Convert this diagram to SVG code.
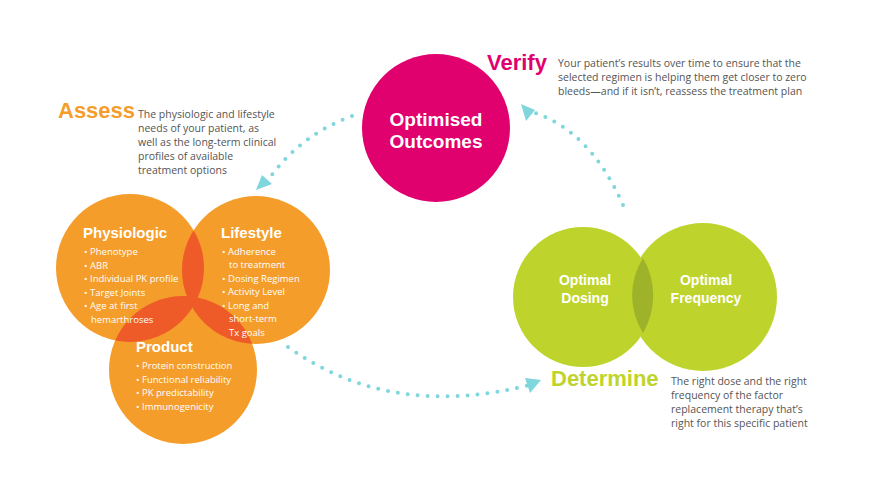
<svg xmlns="http://www.w3.org/2000/svg" width="873" height="491" viewBox="0 0 873 491">
<style>
.o{fill:#f59d2a}.x{fill:#ee5b28}
.t{font-family:"Liberation Sans",Arial,sans-serif;font-weight:bold;fill:#fff}
.b{font-family:"Open Sans",sans-serif;font-size:9.5px;fill:#fff}
.d{font-family:"Open Sans",sans-serif;font-size:10.5px;fill:#555}
.h{font-family:"Liberation Sans",Arial,sans-serif;font-weight:bold;font-size:22px}
.dot{fill:none;stroke:#7fd6dc;stroke-width:4;stroke-linecap:round;stroke-dasharray:0 10}
.ar{fill:#7fd6dc}
</style>
<defs>
<clipPath id="cP"><circle cx="130" cy="268" r="74"/></clipPath>
<clipPath id="cL"><circle cx="256" cy="270" r="74"/></clipPath>
</defs>
<g id="connectors">
<path class="dot" d="M352 116 Q300 135 268 180"/>
<polygon class="ar" points="256,190 272,184 262,175"/>
<path class="dot" d="M288 347 Q390 420 530 385"/>
<polygon class="ar" points="541,380 525,378 530,393"/>
<path class="dot" d="M623 205 Q590 130 532 112"/>
<polygon class="ar" points="521,104 526,121 535,110"/>
</g>
<g id="physiologic"><circle class="o" cx="130" cy="268" r="74"/></g>
<g id="lifestyle"><circle class="o" cx="256" cy="270" r="74"/></g>
<g id="product"><circle class="o" cx="183" cy="370" r="74"/></g>
<g id="overlaps">
<circle class="x" cx="256" cy="270" r="74" clip-path="url(#cP)"/>
<circle class="x" cx="183" cy="370" r="74" clip-path="url(#cP)"/>
<circle class="x" cx="183" cy="370" r="74" clip-path="url(#cL)"/>
</g>
<g id="texts-orange">
<text class="t" x="83" y="238" font-size="15">Physiologic</text>
<text class="b" x="84" y="255">• Phenotype</text>
<text class="b" x="84" y="268.5">• ABR</text>
<text class="b" x="84" y="282">• Individual PK profile</text>
<text class="b" x="84" y="295.5">• Target Joints</text>
<text class="b" x="84" y="309">• Age at first</text>
<text class="b" x="91" y="322.5">hemarthroses</text>
<text class="t" x="221" y="238" font-size="15">Lifestyle</text>
<text class="b" x="222" y="254.5">• Adherence</text>
<text class="b" x="229" y="268">to treatment</text>
<text class="b" x="222" y="281.5">• Dosing Regimen</text>
<text class="b" x="222" y="295">• Activity Level</text>
<text class="b" x="222" y="308.5">• Long and</text>
<text class="b" x="229" y="322">short-term</text>
<text class="b" x="229" y="335.5">Tx goals</text>
<text class="t" x="136" y="352" font-size="15">Product</text>
<text class="b" x="136" y="369">• Protein construction</text>
<text class="b" x="136" y="382.5">• Functional reliability</text>
<text class="b" x="136" y="396">• PK predictability</text>
<text class="b" x="136" y="409.5">• Immunogenicity</text>
</g>
<g id="outcomes"><circle cx="436" cy="128" r="74" fill="#e0006e"/>
<text class="t" x="436" y="126" font-size="19" text-anchor="middle">Optimised</text>
<text class="t" x="436" y="148" font-size="19" text-anchor="middle">Outcomes</text></g>
<g id="optimal">
<circle cx="703" cy="297" r="74" fill="#bed42c"/>
<circle cx="583" cy="297" r="70" fill="#bed42c"/>
<path d="M643 258 A74 74 0 0 1 643 333 A70 70 0 0 1 643 258Z" fill="#8a9c2a" opacity=".6"/>
<text class="t" x="585" y="285" font-size="14" text-anchor="middle">Optimal</text>
<text class="t" x="585" y="303" font-size="14" text-anchor="middle">Dosing</text>
<text class="t" x="706" y="285" font-size="14" text-anchor="middle">Optimal</text>
<text class="t" x="706" y="303" font-size="14" text-anchor="middle">Frequency</text>
</g>
<g id="assess"><text class="h" x="58" y="118" fill="#f59d2a">Assess</text>
<text class="d" x="138" y="118">The physiologic and lifestyle</text>
<text class="d" x="138" y="132">needs of your patient, as</text>
<text class="d" x="138" y="146">well as the long-term clinical</text>
<text class="d" x="138" y="160">profiles of available</text>
<text class="d" x="138" y="174">treatment options</text></g>
<g id="verify"><text class="h" x="487" y="70" fill="#e0006e">Verify</text>
<text class="d" x="558" y="67">Your patient’s results over time to ensure that the</text>
<text class="d" x="558" y="81">selected regimen is helping them get closer to zero</text>
<text class="d" x="558" y="95">bleeds—and if it isn’t, reassess the treatment plan</text></g>
<g id="determine"><text class="h" x="551" y="386" fill="#bed42c">Determine</text>
<text class="d" x="671" y="385">The right dose and the right</text>
<text class="d" x="671" y="399">frequency of the factor</text>
<text class="d" x="671" y="413">replacement  therapy that’s</text>
<text class="d" x="671" y="427">right for this specific patient</text></g>
</svg>
